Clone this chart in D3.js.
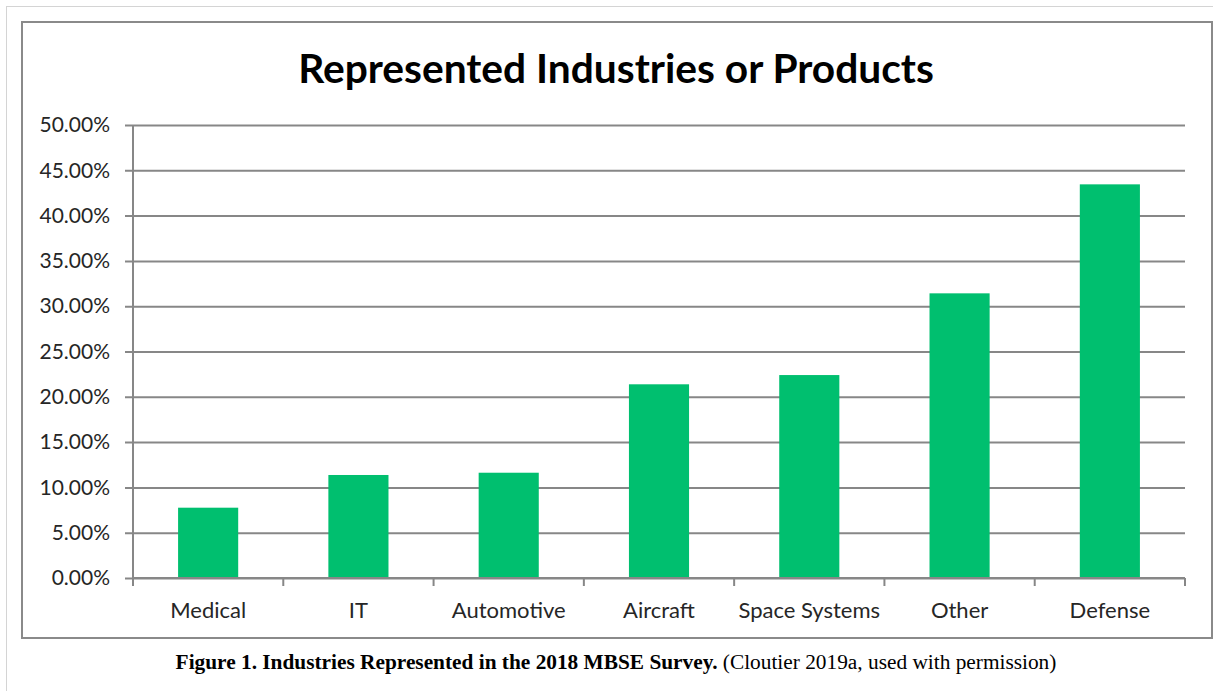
<!DOCTYPE html>
<html>
<head>
<meta charset="utf-8">
<script src="https://cdn.jsdelivr.net/npm/d3@7"></script>
<style>
  body { margin: 0; background: #fff; }
  svg { display: block; }
</style>
</head>
<body>
<div id="chart"></div>
<script>
// data
const categories = ['Medical', 'IT', 'Automotive', 'Aircraft', 'Space Systems', 'Other', 'Defense']
const shares = [7.76, 11.37, 11.62, 21.38, 22.4, 31.42, 43.45]
const yTicks = [0, 5, 10, 15, 20, 25, 30, 35, 40, 45, 50]
const titleText = 'Represented Industries or Products'
const captionBold = 'Figure 1. Industries Represented in the 2018 MBSE Survey.'
const captionRest = ' (Cloutier 2019a, used with permission)'

// consts
const width = 1222, height = 691
const plot = { left: 133, right: 1185, top: 125, bottom: 578 }
const gridColor = '#878787'
const barColor = '#00bf6f'
const font = 'Lato, "Open Sans", sans-serif'

const svg = d3.select('#chart').append('svg')
    .attr('width', width)
    .attr('height', height)

// outer page frame (top + left only visible)
svg.append('line').attr('x1', 6).attr('x2', 1213).attr('y1', 6.5).attr('y2', 6.5)
    .attr('stroke', '#d4d4d4').attr('stroke-width', 1)
svg.append('line').attr('x1', 6.5).attr('x2', 6.5).attr('y1', 6).attr('y2', height)
    .attr('stroke', '#d4d4d4').attr('stroke-width', 1)

// chart box
svg.append('rect')
    .attr('x', 22).attr('y', 22)
    .attr('width', 1190).attr('height', 616)
    .attr('fill', 'none')
    .attr('stroke', '#8a8a8a')
    .attr('stroke-width', 2)

// scales
const x = d3.scaleBand()
    .domain(categories)
    .range([plot.left, plot.right])
    .paddingInner(0).paddingOuter(0)
const y = d3.scaleLinear()
    .domain([0, 50])
    .range([plot.bottom, plot.top])

// y axis + gridlines
const yAxis = svg.append('g')
    .attr('transform', `translate(${plot.left},0)`)
    .call(d3.axisLeft(y)
        .tickValues(yTicks)
        .tickSizeInner(-(plot.right - plot.left))
        .tickSizeOuter(0)
        .tickPadding(23)
        .tickFormat(d => d3.format('.2f')(d) + '%'))
yAxis.select('.domain').remove()
yAxis.selectAll('.tick line')
    .attr('x1', -8)
    .attr('stroke', gridColor)
    .attr('stroke-width', 2)
yAxis.selectAll('.tick text')
    .attr('font-family', font)
    .attr('font-size', 21)
    .attr('fill', '#262626')

// bars
const barW = x.bandwidth() * 0.4
svg.append('g').selectAll('rect')
    .data(shares)
    .enter()
    .append('rect')
    .attr('x', (d, i) => x(categories[i]) + (x.bandwidth() - barW) / 2)
    .attr('y', d => y(d))
    .attr('width', barW)
    .attr('height', d => y(0) - y(d))
    .attr('fill', barColor)

// vertical axis line
svg.append('line')
    .attr('x1', plot.left).attr('x2', plot.left)
    .attr('y1', plot.top).attr('y2', plot.bottom + 8)
    .attr('stroke', gridColor).attr('stroke-width', 2)

// x axis line + boundary ticks
svg.append('line')
    .attr('x1', plot.left).attr('x2', plot.right)
    .attr('y1', y(0)).attr('y2', y(0))
    .attr('stroke', gridColor).attr('stroke-width', 2)
const bounds = categories.map(c => x(c)).concat([x.range()[1]])
svg.append('g').selectAll('line')
    .data(bounds)
    .enter()
    .append('line')
    .attr('x1', d => d).attr('x2', d => d)
    .attr('y1', y(0)).attr('y2', y(0) + 8)
    .attr('stroke', gridColor).attr('stroke-width', 2)

// x labels
const xAxis = svg.append('g')
    .attr('transform', `translate(0,${y(0)})`)
    .call(d3.axisBottom(x).tickSize(0).tickPadding(24))
xAxis.select('.domain').remove()
xAxis.selectAll('.tick text')
    .attr('font-family', font)
    .attr('font-size', 22)
    .attr('fill', '#262626')

// title
const title = svg.append('text')
    .attr('x', 616).attr('y', 83)
    .attr('text-anchor', 'middle')
    .attr('font-family', font)
    .attr('font-weight', 'bold')
    .attr('font-size', 40)
    .attr('fill', '#000')
    .text(titleText)
// fit title to its width in the original
const tw = title.node().getComputedTextLength()
title.attr('font-size', 40 * 636 / tw)

// caption
const cap = svg.append('text')
    .attr('x', 616).attr('y', 669)
    .attr('text-anchor', 'middle')
    .attr('font-family', '"Liberation Serif", "Times New Roman", serif')
    .attr('font-size', 18)
    .attr('fill', '#000')
cap.append('tspan').attr('font-weight', 'bold').text(captionBold)
cap.append('tspan').text(captionRest)
const cw = cap.node().getComputedTextLength()
cap.attr('font-size', 18 * 881 / cw)
</script>
</body>
</html>
